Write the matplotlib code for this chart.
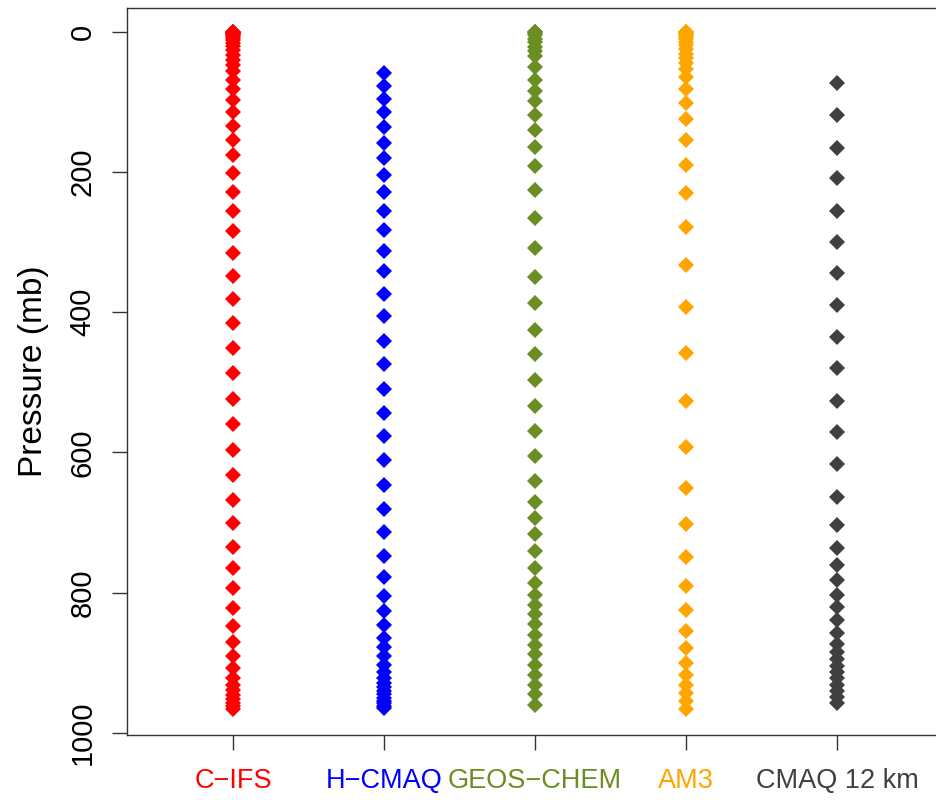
import matplotlib.pyplot as plt
import numpy as np

plt.rcParams['font.family'] = ['Liberation Sans', 'DejaVu Sans']

# model names and colours
models = ['C\u2212IFS', 'H\u2212CMAQ', 'GEOS\u2212CHEM', 'AM3', 'CMAQ 12 km']
colors = ['#ff0000', '#0000ff', '#6b8e23', '#ffa500', '#404040']

# vertical levels (mb)
cifs = [0.1, 0.3, 0.7, 1.3, 2, 3, 4.5, 6.5, 9, 12, 15.5, 20, 26, 33, 40, 47,
        56, 68, 81, 97, 115, 134, 154, 175, 201, 228, 255, 284,
        315, 348, 381, 415, 451, 486, 524, 559, 596, 632,
        668, 700, 735, 765, 793, 822, 847, 870, 890, 907, 922,
        931, 939, 946, 952, 957, 962, 966]
hcmaq = [59, 77, 96, 114, 136, 158, 180, 204, 229, 256, 283, 312, 341, 374,
         406, 441, 474, 510, 543, 577, 611, 646, 680, 714, 748, 778, 805,
         826, 846, 864, 878, 891, 903, 913, 922, 929, 935, 940, 945, 950,
         954, 958, 962, 965]
geos = [0.02, 0.1, 0.5, 2, 5, 10, 15, 21, 28, 35, 50, 68, 85, 99, 118, 140,
        164, 192, 226, 266, 309, 350, 387, 425, 460, 497, 534, 569, 605,
        641, 670, 694, 717, 741, 765, 786, 803, 817, 831, 845, 860, 874,
        888, 903, 917, 931, 945, 960]
am3 = [0.01, 0.1, 0.5, 1.5, 3, 5, 7.5, 10.5, 14, 19, 25, 31, 38, 45, 53,
       64, 82, 102, 124, 154, 190, 230, 279, 332, 392, 458, 526, 592, 650,
       702, 749, 790, 825, 854, 879, 901, 917, 932, 943, 955, 966]
cmaq12 = [73, 119, 165, 209, 255, 300, 344, 390, 435, 480, 526, 571, 617,
          663, 704, 736, 760, 782, 803, 821, 839, 858, 873, 885, 894, 904,
          913, 922, 931, 940, 949, 958]

levels = [cifs, hcmaq, geos, am3, cmaq12]

fig = plt.figure(figsize=(9.37, 8), dpi=100)
ax = fig.add_axes([127 / 937, 65 / 800, 813 / 937, 727 / 800])

for i, (lev, c) in enumerate(zip(levels, colors)):
    x = np.full(len(lev), i + 1)
    ax.plot(x, lev, 'D', color=c, markersize=8.5, markeredgewidth=0, clip_on=False)

ax.set_xlim(0.298, 5.682)
ax.set_ylim(1003, -34)
ax.set_yticks(np.arange(0, 1001, 200))
ax.set_xticks(np.arange(1, 6), models)
for lab, c in zip(ax.get_xticklabels(), colors):
    lab.set_color(c)

ax.tick_params(axis='x', length=11, width=1, pad=13, labelsize=19.5, color='#333333')
ax.tick_params(axis='y', length=11, width=1, pad=11, labelsize=21, color='#333333')
for lab in ax.get_yticklabels():
    lab.set_rotation(90)
    lab.set_va('center')

for s in ax.spines.values():
    s.set_color('#333333')
    s.set_linewidth(1)
ax.spines['right'].set_visible(False)

ax.set_ylabel('Pressure (mb)', fontsize=24, labelpad=14)

plt.savefig('out.png', dpi=100)
